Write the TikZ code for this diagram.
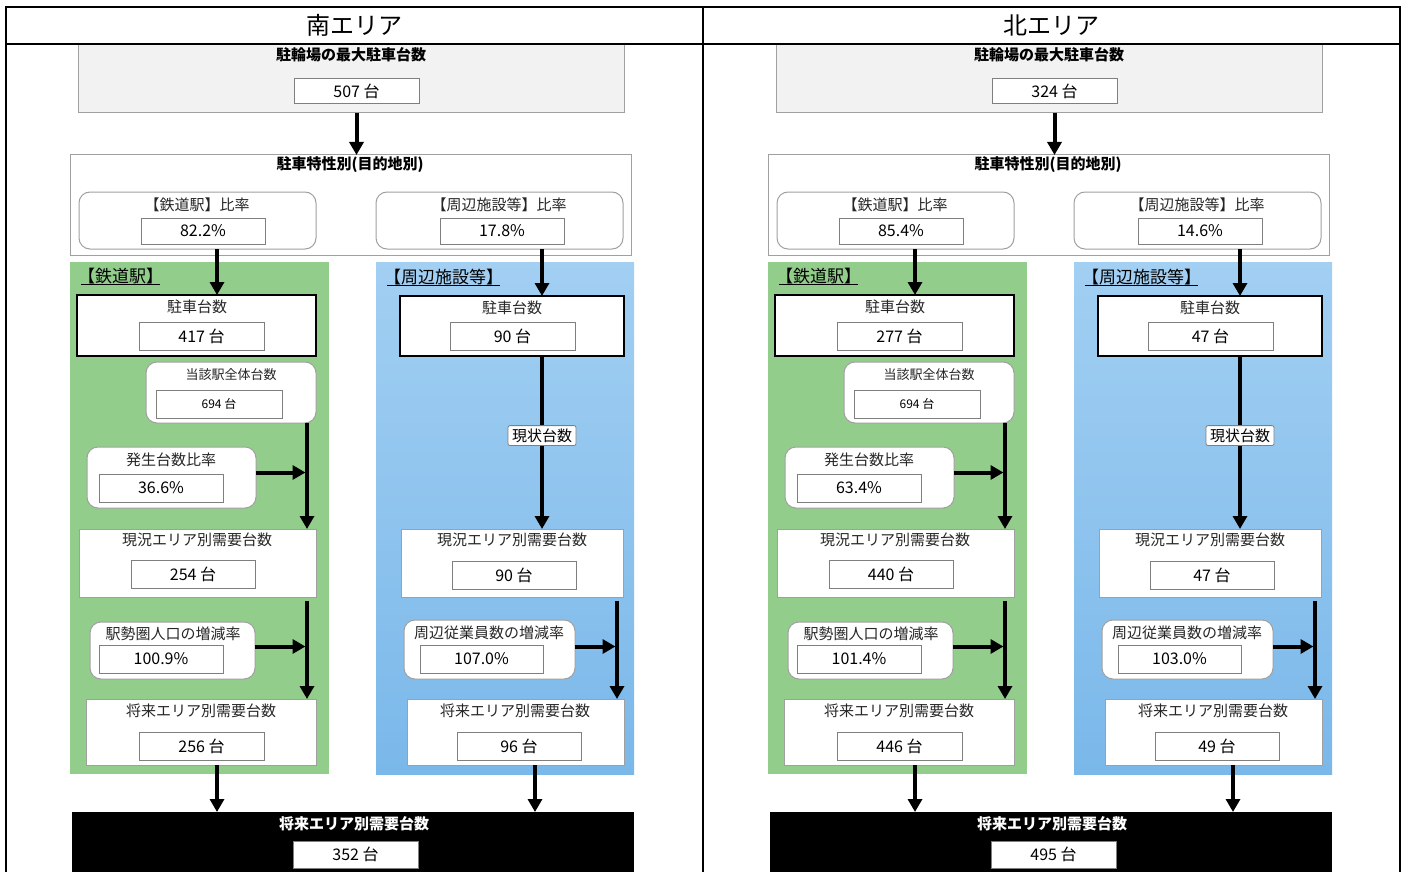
\documentclass[tikz,border=0pt]{standalone}
\usepackage{fontspec}
\setmainfont{Noto Sans CJK JP}
\usetikzlibrary{arrows.meta}
\definecolor{grn}{HTML}{93CD8C}
\definecolor{bluetop}{HTML}{A2CFF2}
\definecolor{bluebot}{HTML}{7AB8EA}
\definecolor{grayfill}{HTML}{F2F2F2}
\definecolor{grayline}{HTML}{A0A0A0}
\definecolor{valline}{HTML}{7F7F7F}
\tikzset{
  fitbox/.style={inner sep=0pt, outer sep=0pt},
  graybox/.style={fitbox, draw=grayline, fill=grayfill, line width=1pt},
  plainbox/.style={fitbox, draw=grayline, fill=white, line width=1pt},
  roundbox/.style={fitbox, draw=grayline, fill=white, line width=1pt, rounded corners=11pt},
  thickbox/.style={fitbox, draw=black, fill=white, line width=2pt},
  valbox/.style={fitbox, draw=valline, fill=white, line width=1pt},
  blackbox/.style={fitbox, fill=black},
  greenbg/.style={fitbox, fill=grn},
  bluebg/.style={fitbox, top color=bluetop, bottom color=bluebot},
  ttl/.style={inner sep=0pt, font=\fontsize{15}{15}\selectfont, text=black!85},
  bttl/.style={inner sep=0pt, font=\fontsize{15}{15}\selectfont\bfseries},
  sttl/.style={inner sep=0pt, font=\fontsize{13}{13}\selectfont, text=black!85},
  vtxt/.style={inner sep=0pt, font=\fontsize{16}{16}\selectfont},
  svtxt/.style={inner sep=0pt, font=\fontsize{12}{12}\selectfont},
  grplabel/.style={inner sep=0pt, anchor=west, font=\fontsize{17}{17}\selectfont},
  uline/.style={line width=1pt, draw=black},
  hdr/.style={inner sep=0pt, font=\fontsize{24}{24}\selectfont},
  arr/.style={line width=4pt, -{Triangle[width=14pt,length=13pt]}},
  statelbl/.style={draw=valline, fill=white, rounded corners=2pt, line width=0.8pt,
    inner xsep=4pt, inner ysep=3pt, font=\fontsize{15}{15}\selectfont},
  tline/.style={line width=1.6pt, draw=black},
}
% box from (x1,y1) to (x2,y2) in pixel coordinates
\newcommand\bx[6]{%
  \pgfmathsetmacro\bxw{#5-#3}\pgfmathsetmacro\bxh{#6-#4}%
  \node[#1, minimum width=\bxw pt, minimum height=\bxh pt, anchor=north west] (#2) at (#3,#4) {};}
\newcommand\drawpanel[2]{%
\begin{scope}[xshift=#2pt]
  % group backgrounds
  \bx{greenbg}{#1gbg}{70}{262}{329}{774}
  \bx{bluebg}{#1bbg}{376}{262}{634}{774}
  \node[grplabel] (#1gl) at (78,276) {【鉄道駅】};
  \draw[uline] ([xshift=3pt,yshift=-2.5pt]#1gl.base west) -- ([xshift=-3pt,yshift=-2.5pt]#1gl.base east);
  \node[grplabel] (#1bl) at (384,277) {【周辺施設等】};
  \draw[uline] ([xshift=3pt,yshift=-2.5pt]#1bl.base west) -- ([xshift=-3pt,yshift=-2.5pt]#1bl.base east);
  % maximum
  \bx{graybox}{#1top}{78}{44}{624}{113}
  \node[bttl] (#1topT) at (351,55) {駐輪場の最大駐車台数};
  \bx{valbox}{#1topV}{294}{79}{419}{104}
  \node[vtxt] (#1topVT) at (#1topV) {\pMax\ 台};
  % characteristics
  \bx{plainbox}{#1chr}{70}{155}{631}{255}
  \node[bttl] (#1chrT) at (350,165) {駐車特性別(目的地別)};
  \bx{roundbox}{#1rtA}{79}{192}{316}{249}
  \node[ttl] (#1rtAT) at (197,205) {【鉄道駅】比率};
  \bx{valbox}{#1rtAV}{141}{218}{265}{244}
  \node[vtxt] (#1rtAVT) at (#1rtAV) {\pRa};
  \bx{roundbox}{#1rtB}{376}{192}{623}{249}
  \node[ttl] (#1rtBT) at (499,205) {【周辺施設等】比率};
  \bx{valbox}{#1rtBV}{440}{218}{564}{244}
  \node[vtxt] (#1rtBVT) at (#1rtBV) {\pRb};
  % parked counts
  \bx{thickbox}{#1pkA}{77}{295}{316}{356}
  \node[ttl] (#1pkAT) at (197,307) {駐車台数};
  \bx{valbox}{#1pkAV}{139}{322}{264}{350}
  \node[vtxt] (#1pkAVT) at (#1pkAV) {\pPa\ 台};
  \bx{thickbox}{#1pkB}{400}{296}{624}{356}
  \node[ttl] (#1pkBT) at (512,308) {駐車台数};
  \bx{valbox}{#1pkBV}{450}{322}{575}{350}
  \node[vtxt] (#1pkBVT) at (#1pkBV) {\pPb\ 台};
  % station total
  \bx{roundbox}{#1tot}{146}{362}{316}{423}
  \node[sttl] (#1totT) at (231,375) {当該駅全体台数};
  \bx{valbox}{#1totV}{156}{390}{282}{418}
  \node[svtxt] (#1totVT) at (#1totV) {\pTot\ 台};
  % generation ratio
  \bx{roundbox}{#1gen}{87}{447}{256}{508}
  \node[ttl] (#1genT) at (171,460) {発生台数比率};
  \bx{valbox}{#1genV}{99}{474}{223}{502}
  \node[vtxt] (#1genVT) at (#1genV) {\pGen};
  % current demand
  \bx{plainbox}{#1curA}{79}{529}{316}{597}
  \node[ttl] (#1curAT) at (197,540) {現況エリア別需要台数};
  \bx{valbox}{#1curAV}{131}{560}{255}{588}
  \node[vtxt] (#1curAVT) at (#1curAV) {\pCa\ 台};
  \bx{plainbox}{#1curB}{401}{529}{623}{597}
  \node[ttl] (#1curBT) at (512,540) {現況エリア別需要台数};
  \bx{valbox}{#1curBV}{452}{561}{576}{589}
  \node[vtxt] (#1curBVT) at (#1curBV) {\pCb\ 台};
  % growth rates
  \bx{roundbox}{#1pop}{90}{622}{255}{679}
  \node[ttl] (#1popT) at (173,634) {駅勢圏人口の増減率};
  \bx{valbox}{#1popV}{99}{645}{223}{673}
  \node[vtxt] (#1popVT) at (#1popV) {\pPop};
  \bx{roundbox}{#1emp}{404}{620}{575}{679}
  \node[ttl] (#1empT) at (489,633) {周辺従業員数の増減率};
  \bx{valbox}{#1empV}{420}{645}{543}{673}
  \node[vtxt] (#1empVT) at (#1empV) {\pEmp};
  % future demand
  \bx{plainbox}{#1futA}{86}{699}{316}{765}
  \node[ttl] (#1futAT) at (201,711) {将来エリア別需要台数};
  \bx{valbox}{#1futAV}{139}{732}{264}{760}
  \node[vtxt] (#1futAVT) at (#1futAV) {\pFa\ 台};
  \bx{plainbox}{#1futB}{407}{699}{624}{765}
  \node[ttl] (#1futBT) at (515,711) {将来エリア別需要台数};
  \bx{valbox}{#1futBV}{457}{732}{581}{760}
  \node[vtxt] (#1futBVT) at (#1futBV) {\pFb\ 台};
  % total
  \bx{blackbox}{#1sum}{72}{812}{634}{885}
  \node[bttl, text=white] (#1sumT) at (354,824) {将来エリア別需要台数};
  \bx{valbox}{#1sumV}{293}{841}{418}{868}
  \node[vtxt] (#1sumVT) at (#1sumV) {\pSum\ 台};
  % connectors
  \coordinate (#1xa) at (217,0);
  \coordinate (#1xb) at (542,0);
  \coordinate (#1xc) at (307,0);
  \coordinate (#1xd) at (617,0);
  \coordinate (#1xe) at (535,0);
  \draw[arr] (#1top.south -| #1topV.south) -- (#1topV.south |- #1chr.north);
  \draw[arr] (#1xa |- #1rtA.south) -- (#1xa |- #1pkA.north);
  \draw[arr] (#1xb |- #1rtB.south) -- (#1xb |- #1pkB.north);
  \draw[arr] (#1xc |- #1tot.south) -- (#1xc |- #1curA.north);
  \draw[arr, shorten >=1.5pt] ([yshift=5pt]#1gen.east) -- ([yshift=5pt]#1xc |- #1gen.east);
  \draw[arr] (#1xb |- #1pkB.south) -- node[statelbl, pos=0.46] (#1state) {現状台数} (#1xb |- #1curB.north);
  \draw[arr] ([yshift=-4pt]#1xc |- #1curA.south) -- (#1xc |- #1futA.north);
  \draw[arr, shorten >=1.5pt] ([yshift=4pt]#1pop.east) -- ([yshift=4pt]#1xc |- #1pop.east);
  \draw[arr] ([yshift=-4pt]#1xd |- #1curB.south) -- (#1xd |- #1futB.north);
  \draw[arr, shorten >=1.5pt] ([yshift=3pt]#1emp.east) -- ([yshift=3pt]#1xd |- #1emp.east);
  \draw[arr] (#1xa |- #1futA.south) -- (#1xa |- #1sum.north);
  \draw[arr] (#1xe |- #1futB.south) -- (#1xe |- #1sum.north);
\end{scope}}
\begin{document}
\begin{tikzpicture}[x=1pt, y=-1pt]
  \useasboundingbox (0,0) rectangle (1406,872);
  \clip (0,0) rectangle (1406,872);
  \fill[white] (0,0) rectangle (1406,872);
  % south
  \def\pMax{507}\def\pRa{82.2\%}\def\pRb{17.8\%}\def\pPa{417}\def\pPb{90}
  \def\pTot{694}\def\pGen{36.6\%}\def\pCa{254}\def\pCb{90}\def\pPop{100.9\%}
  \def\pEmp{107.0\%}\def\pFa{256}\def\pFb{96}\def\pSum{352}
  \drawpanel{s}{0}
  % north
  \def\pMax{324}\def\pRa{85.4\%}\def\pRb{14.6\%}\def\pPa{277}\def\pPb{47}
  \def\pTot{694}\def\pGen{63.4\%}\def\pCa{440}\def\pCb{47}\def\pPop{101.4\%}
  \def\pEmp{103.0\%}\def\pFa{446}\def\pFb{49}\def\pSum{495}
  \drawpanel{n}{698}
  % table
  \node[hdr] (hS) at (354.5,25) {南エリア};
  \node[hdr] (hN) at (1051.5,25) {北エリア};
  \draw[tline] (6,880) -- (6,7) -- (1400,7) -- (1400,880);
  \draw[tline] (703,7) -- (703,880);
  \draw[tline] (6,44) -- (1400,44);
\end{tikzpicture}
\end{document}
